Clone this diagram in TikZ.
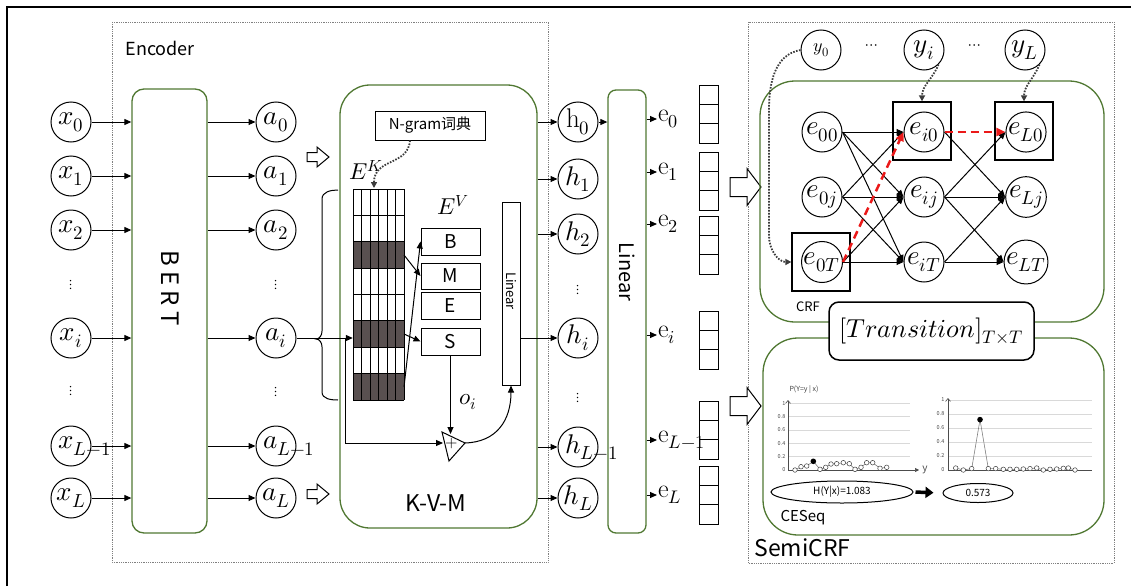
\documentclass[tikz,border=0pt]{standalone}
\usepackage{fontspec}
\usepackage{unicode-math}
\setmathfont{Latin Modern Math}
\newfontfamily\cjk{Noto Sans CJK SC}
\usetikzlibrary{arrows.meta,shapes.geometric}
\definecolor{kgreen}{RGB}{80,120,50}
\definecolor{dotc}{RGB}{60,60,60}
\definecolor{cellc}{RGB}{89,80,80}
\definecolor{redd}{RGB}{235,25,25}
\definecolor{chartc}{RGB}{128,128,128}
\definecolor{gridl}{RGB}{217,217,217}
\newcommand{\myfs}[1]{\fontsize{#1}{#1}\selectfont}
\newcommand{\ovl}[1]{\makebox[26pt][l]{#1}}
\tikzset{
  circ/.style={circle, draw, line width=1pt, minimum size=40pt, inner sep=0pt, font=\myfs{27}},
  vd/.style={inner sep=0pt, font=\myfs{14}},
  arr/.style={-{Triangle[length=7pt,width=6pt]}, line width=1pt},
  gbox/.style={draw=kgreen, line width=1.3pt},
  sbox/.style={draw, line width=1pt, inner sep=0pt},
  dotarr/.style={draw=dotc, line width=1.8pt, dash pattern=on 1.6pt off 1.4pt, -{Triangle[length=6pt,width=6pt]}},
  reddash/.style={draw=redd, line width=2.5pt, dash pattern=on 8pt off 5pt, -{Triangle[length=9pt,width=8pt]}},
  trel/.style={circle, draw, line width=1pt, minimum size=40pt, inner sep=0pt, font=\myfs{27}},
  elab/.style={anchor=west, inner sep=1pt, font=\myfs{26}},
  hollow/.style={draw, line width=1pt, fill=white},
  dotbox/.style={draw=gray, line width=0.8pt, densely dotted},
  tick/.style={anchor=east, inner sep=0.5pt, font=\cjk\myfs{5.5}, text=black!70},
  cpt/.style={draw=black!75, fill=white, line width=0.5pt},
}
\begin{document}
\begin{tikzpicture}[x=1pt,y=-1pt]
\useasboundingbox (0,0) rectangle (1131,586);
% outer frame
\draw[line width=1.2pt] (7,586) -- (7,7) -- (1131,7);
% Encoder region
\draw[dotbox] (112,22) rectangle (548,562);
\node[anchor=west, font=\cjk\myfs{18}] (enclab) at (122,48) {Encoder};

% inputs x
\node[circ] (x0) at (71,122) {$x_0$};
\node[circ] (x1) at (71,176) {$x_1$};
\node[circ] (x2) at (71,230) {$x_2$};
\node[vd] (xd1) at (71,285) {$\vdots$};
\node[circ] (xi) at (71,338) {$x_i$};
\node[vd] (xd2) at (71,391) {$\vdots$};
\node[circ] (xL1) at (71,446) {\ovl{$x_{L-1}$}};
\node[circ] (xL) at (71,498) {$x_L$};

% BERT
\node[gbox, rounded corners=12pt, minimum width=75pt, minimum height=444pt] (bert) at (169.5,311) {};
\node[rotate=-90, font=\cjk\myfs{24}] (berttxt) at (170,288) {B E R T};
\foreach \n in {x0,x1,x2,xi,xL1,xL} \draw[arr] (\n) -- (\n -| bert.west);

% a nodes
\node[circ] (a0) at (276,122) {$a_0$};
\node[circ] (a1) at (276,176) {$a_1$};
\node[circ] (a2) at (276,230) {$a_2$};
\node[vd] (ad1) at (276,285) {$\vdots$};
\node[circ] (ai) at (276,338) {$a_i$};
\node[vd] (ad2) at (276,392) {$\vdots$};
\node[circ] (aL1) at (276,446) {\ovl{$a_{L-1}$}};
\node[circ] (aL) at (276,498) {$a_L$};
\foreach \n in {a0,a1,a2,ai,aL1,aL} \draw[arr] (\n -| bert.east) -- (\n);

% small hollow arrows
\draw[hollow] (307,152.5) -- (317,152.5) -- (317,147) -- (329,157) -- (317,167) -- (317,161.5) -- (307,161.5) -- cycle;
\draw[hollow] (307,489.5) -- (317,489.5) -- (317,484) -- (329,494) -- (317,504) -- (317,498.5) -- (307,498.5) -- cycle;

% KVM box
\node[gbox, rounded corners=30pt, minimum width=197pt, minimum height=443pt] (kvm) at (438.5,306.5) {};
\node[font=\cjk\myfs{23}] (kvmlab) at (436,503) {K-V-M};
\node[sbox, minimum width=110pt, minimum height=29pt, font=\cjk\myfs{15}] (ngram) at (430,125.5) {N-gram词典};
\node[font=\myfs{23}] (EKl) at (366,170) {$E^K$};
\node[font=\myfs{23}] (EVl) at (453,205) {$E^V$};

% E^K grid
\node[minimum width=51pt, minimum height=211pt, inner sep=0pt] (EK) at (378.5,294.5) {};
\foreach \r in {2,5,7} \fill[cellc] (353,{189+26.375*\r}) rectangle (404,{189+26.375*(\r+1)});
\foreach \k in {0,...,6} \draw[line width=1pt] ({353+8.5*\k},189) -- ({353+8.5*\k},400);
\foreach \r in {0,...,8} \draw[line width=1pt] (353,{189+26.375*\r}) -- (404,{189+26.375*\r});
\draw[dotarr] ([xshift=-20pt]ngram.south) .. controls (408,166) and (374,158) .. (374,188);

% BMES
\node[sbox, minimum width=59pt, minimum height=27pt, font=\cjk\myfs{19}] (B) at (450.5,241.5) {B};
\node[sbox, minimum width=59pt, minimum height=26pt, font=\cjk\myfs{19}] (M) at (450.5,276) {M};
\node[sbox, minimum width=59pt, minimum height=27pt, font=\cjk\myfs{19}] (E) at (450.5,305.5) {E};
\node[sbox, minimum width=59pt, minimum height=27pt, font=\cjk\myfs{19}] (S) at (450.5,341.5) {S};
\coordinate (g2) at (404,255);
\coordinate (g5) at (404,334);
\coordinate (g7) at (404,387);
\draw[arr] (g2) -- (M.west);
\draw[arr] (g5) -- (S.west);
\draw[arr] (g7) -- (B.west);

% brace and a_i path
\draw[line width=1pt] (338,190) to[out=180,in=90] (322,199) -- (322,331) to[out=-90,in=0] (316,339) to[out=0,in=90] (322,347) -- (322,392) to[out=-90,in=180] (338,400);
\draw[arr] (ai) -- (ai -| EK.west);
\coordinate (split) at (345,338);
\coordinate (addleft) at (443,443);
\coordinate (addtop) at (450.5,434);
\coordinate (addtip) at (465,443);
\draw[arr] (split) |- (addleft);
\draw[line width=1pt] (442,432) -- (465,443) -- (449,461) -- cycle;
\node[font=\myfs{16}, inner sep=0pt] (plus) at (452,443) {$+$};
\draw[arr] (S.south) -- (addtop);
\node[font=\myfs{23}] (oi) at (468,402) {$o_i$};

% inner Linear
\node[sbox, minimum width=18pt, minimum height=183pt] (lin) at (511,293.5) {};
\node[rotate=-90, font=\cjk\myfs{13}] (lintxt) at (511,291) {Linear};
\draw[arr] (addtip) .. controls (497,442) and (511,420) .. (lin.south);

% h nodes
\node[circ] (h0) at (578,122) {$\mathrm{h}_0$};
\node[circ] (h1) at (578,179) {$h_1$};
\node[circ] (h2) at (578,234) {$h_2$};
\node[vd] (hd1) at (578,290) {$\vdots$};
\node[circ] (hi) at (578,338) {$h_i$};
\node[vd] (hd2) at (578,398) {$\vdots$};
\node[circ] (hL1) at (578,447) {\ovl{$h_{L-1}$}};
\node[circ] (hL) at (578,498) {$h_L$};
\foreach \n in {h0,h1,h2,hL1,hL} \draw[arr] (\n -| kvm.east) -- (\n);
\draw[arr] (hi -| lin.east) -- (hi);

% big Linear
\node[gbox, rounded corners=8pt, minimum width=38pt, minimum height=443pt] (blin) at (627,311.5) {};
\node[rotate=-90, font=\cjk\myfs{20}] (blintxt) at (627,272) {Linear};
\draw[arr] (h0) -- (h0 -| blin.west);

% e labels
\node[elab] (e0) at (657,119) {$\mathrm{e}_0$};
\node[elab] (e1) at (657,172) {$\mathrm{e}_1$};
\node[elab] (e2) at (657,224) {$\mathrm{e}_2$};
\node[elab] (ei) at (657,335) {$\mathrm{e}_i$};
\node[elab] (eL1) at (657,440) {$\mathrm{e}_{L-1}$};
\node[elab] (eL) at (657,495) {$\mathrm{e}_L$};
\foreach \n in {e0,e1,e2,ei,eL1,eL} \draw[arr] (\n.west -| blin.east) -- (\n.west);

% vectors
\foreach \t in {85,152,216,311,401,466} {
  \draw[line width=1pt] (699,\t) rectangle (718,{\t+58});
  \draw[line width=1pt] (699,{\t+19.33}) -- (718,{\t+19.33}) (699,{\t+38.67}) -- (718,{\t+38.67});
}

% SemiCRF region
\draw[dotbox] (748,22) rectangle (1114,563);
\node[anchor=west, font=\cjk\myfs{23}] (semilab) at (751,548) {SemiCRF};

% big hollow arrows
\draw[hollow] (730,177.5) -- (747,177.5) -- (747,168.5) -- (761,187) -- (747,205.5) -- (747,196.5) -- (730,196.5) -- cycle;
\draw[hollow] (730,396.5) -- (747,396.5) -- (747,387.5) -- (761,406) -- (747,424.5) -- (747,415.5) -- (730,415.5) -- cycle;

% CRF and CESeq boxes
\node[gbox, rounded corners=35pt, minimum width=344pt, minimum height=241pt] (crf) at (932,201.5) {};
\node[gbox, rounded corners=35pt, minimum width=341pt, minimum height=197pt] (ceseq) at (933.5,436.5) {};
\node[font=\cjk\myfs{13}] (crflab) at (808,307) {CRF};
\node[font=\cjk\myfs{15}] (ceslab) at (803,518) {CESeq};

% y nodes
\node[circ, font=\myfs{18}] (y0) at (821,50) {$y_0$};
\node[font=\myfs{16}] (yd1) at (872,47) {$\cdots$};
\node[circ] (yi) at (924,50) {$y_i$};
\node[font=\myfs{16}] (yd2) at (975,47) {$\cdots$};
\node[circ] (yL) at (1025,50) {$y_L$};

% trellis
\node[sbox, line width=1.3pt, minimum size=58pt] (s0T) at (821,262) {};
\node[sbox, line width=1.3pt, minimum size=58pt] (si0) at (922,131) {};
\node[sbox, line width=1.3pt, minimum size=58pt] (sL0) at (1024,131) {};
\node[trel] (e00) at (822,132) {$e_{00}$};
\node[trel] (e0j) at (822,197) {$e_{0j}$};
\node[trel] (e0T) at (822,262) {$e_{0T}$};
\node[trel] (ei0) at (924,132) {$e_{i0}$};
\node[trel] (eij) at (924,197) {$e_{ij}$};
\node[trel] (eiT) at (924,262) {$e_{iT}$};
\node[trel] (eL0) at (1026,132) {$e_{L0}$};
\node[trel] (eLj) at (1026,197) {$e_{Lj}$};
\node[trel] (eLT) at (1026,262) {$e_{LT}$};
\foreach \s/\t in {e00/ei0,e00/eij,e00/eiT,e0j/ei0,e0j/eij,e0j/eiT,e0T/eij,e0T/eiT,ei0/eLj,eij/eL0,eij/eLj,eij/eLT,eiT/eLj,eiT/eLT}
  \draw[arr] (\s.east) -- (\t.west);
\draw[reddash] (e0T.east) -- (ei0.west);
\draw[reddash] (ei0.east) -- (eL0.west);

% dotted label arrows
\draw[dotarr] (y0.west) to[out=190,in=90] (769,110) -- (769,236) to[out=-90,in=180] (s0T.west);
\draw[dotarr] (yi.south east) to[out=-112,in=90] (si0.north);
\draw[dotarr] (yL.south east) to[out=-112,in=90] (sL0.north);

% Transition
\node[draw, line width=1.5pt, rounded corners=10pt, fill=white, minimum width=205pt, minimum height=58pt, font=\myfs{26}] (trans) at (931.5,331) {$[Transition]_{T\times T}$};

% left chart
\foreach \g in {403.3,416.7,430,443.3,456.7} \draw[gridl, line width=0.6pt] (788,\g) -- (910,\g);
\node[tick] (l1) at (786,403.3) {1};
\node[tick] (l08) at (786,416.7) {0.8};
\node[tick] (l06) at (786,430) {0.6};
\node[tick] (l04) at (786,443.3) {0.4};
\node[tick] (l02) at (786,456.7) {0.2};
\node[tick] (l00) at (786,470) {0};
\draw[black!70, line width=0.6pt, -{Straight Barb[length=3pt,width=5pt]}] (788,470) -- (788,400);
\draw[black!70, line width=0.6pt, -{Triangle[length=4pt,width=4pt]}] (788,470) -- (919,470);
\node[font=\cjk\myfs{10}, text=black!70] (ylab) at (925,470) {y};
\node[font=\cjk\myfs{7}, text=black!75] (plab) at (804,390) {P(Y=y | x)};
\draw[chartc, line width=0.6pt] plot coordinates {(795,470) (801,466.7) (806.7,466) (813.3,461.3) (820,469.3) (825.7,467.3) (831,464) (836.7,463.7) (843.3,462.7) (849.3,463.7) (855,469.3) (861,467.3) (866.7,462.7) (872.7,462.7) (880,468.3) (886.7,467.3)};
\foreach \x/\y in {795/470,801/466.7,806.7/466,820/469.3,825.7/467.3,831/464,836.7/463.7,843.3/462.7,849.3/463.7,855/469.3,861/467.3,866.7/462.7,872.7/462.7,880/468.3,886.7/467.3}
  \draw[cpt] (\x,\y) circle (2.3pt);
\fill (813.3,461.3) circle (2.8pt);

% right chart
\foreach \g in {400,414,428,442,456} \draw[gridl, line width=0.6pt] (948,\g) -- (1092,\g);
\node[tick] (r1) at (945,400) {1};
\node[tick] (r08) at (945,414) {0.8};
\node[tick] (r06) at (945,428) {0.6};
\node[tick] (r04) at (945,442) {0.4};
\node[tick] (r02) at (945,456) {0.2};
\node[tick] (r00) at (945,470) {0};
\draw[black!70, line width=0.6pt, -{Straight Barb[length=3pt,width=5pt]}] (948,470) -- (948,398);
\draw[black!70, line width=0.6pt] (948,470) -- (1092,470);
\draw[chartc, line width=0.6pt] plot coordinates {(955.7,468) (963.3,470) (971.7,468.6) (980,419.6) (988.3,468.6) (995.7,468.6) (1003.3,469.3) (1010,469.3) (1016.7,469.3) (1023.3,469) (1030,468.6) (1036.7,468) (1043.3,470) (1050,469.3) (1056.7,469) (1063.3,468.3) (1068.3,468) (1075,470)};
\foreach \x/\y in {955.7/468,963.3/470,971.7/468.6,988.3/468.6,995.7/468.6,1003.3/469.3,1010/469.3,1016.7/469.3,1023.3/469,1030/468.6,1036.7/468,1043.3/470,1050/469.3,1056.7/469,1063.3/468.3,1068.3/468,1075/470}
  \draw[cpt] (\x,\y) circle (2.3pt);
\fill (980,419.6) circle (2.8pt);

% entropy ellipses
\node[ellipse, draw, line width=1pt, minimum width=142pt, minimum height=22pt, inner sep=0pt, font=\cjk\myfs{10}] (H1) at (842,492) {H(Y|x)=1.083};
\node[ellipse, draw, line width=1pt, minimum width=70pt, minimum height=19pt, inner sep=0pt, font=\cjk\myfs{10}] (H2) at (978,493) {0.573};
\draw[line width=3.5pt, -{Triangle[length=8pt,width=11pt]}, shorten >=9pt, shorten <=2pt] (H1.east) -- (H2.west);
\end{tikzpicture}
\end{document}
